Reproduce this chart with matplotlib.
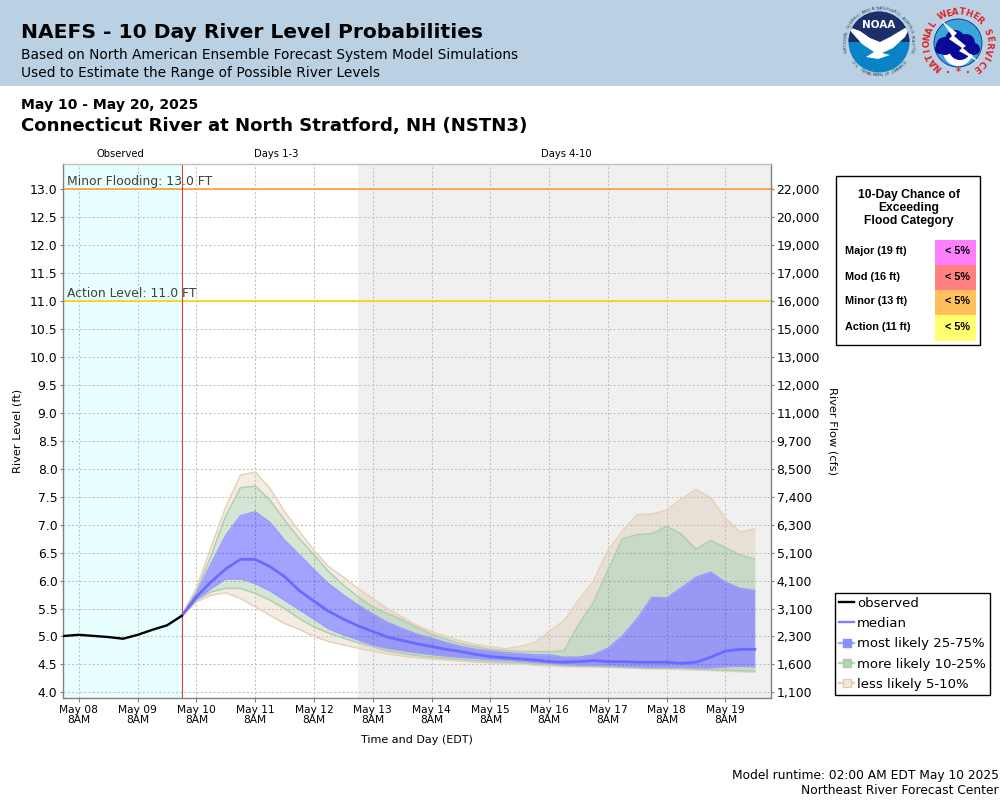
import numpy as np
import matplotlib
matplotlib.use("Agg")
import matplotlib.pyplot as plt
from matplotlib.lines import Line2D
from matplotlib.patches import Rectangle, Circle, Wedge, Polygon

plt.rcParams['font.family'] = ['DejaVu Sans']

# hours after May 08 8AM
obs_hours = [-6, 0, 6, 12, 18, 24, 30, 36, 42]
obs_level = [5.01, 5.03, 5.01, 4.99, 4.96, 5.03, 5.12, 5.20, 5.37]

fc_hours = [42, 48, 54, 60, 66, 72, 78, 84, 90, 96, 102, 108, 114, 120,
            126, 132, 138, 144, 150, 156, 162, 168, 174, 180, 186, 192,
            198, 204, 210, 216, 222, 228, 234, 240, 246, 252, 258, 264, 270, 276]
q95 = [5.37, 5.87, 6.60, 7.32, 7.89, 7.94, 7.65, 7.23, 6.88, 6.54, 6.25, 6.06, 5.86, 5.68,
       5.50, 5.35, 5.20, 5.09, 5.00, 4.92, 4.86, 4.82, 4.78, 4.82, 4.89, 5.09,
       5.28, 5.65, 5.98, 6.54, 6.89, 7.18, 7.19, 7.26, 7.46, 7.63, 7.48, 7.11, 6.87, 6.92]
q90 = [5.37, 5.80, 6.45, 7.16, 7.66, 7.69, 7.44, 7.08, 6.75, 6.46, 6.16, 5.92, 5.71, 5.53,
       5.41, 5.30, 5.16, 5.04, 4.95, 4.87, 4.82, 4.77, 4.75, 4.73, 4.73, 4.73,
       4.74, 5.21, 5.60, 6.19, 6.75, 6.82, 6.84, 6.97, 6.83, 6.56, 6.72, 6.59, 6.46, 6.38]
q75 = [5.37, 5.77, 6.30, 6.81, 7.16, 7.23, 7.04, 6.72, 6.46, 6.19, 5.94, 5.74, 5.56, 5.40,
       5.25, 5.14, 5.04, 4.97, 4.89, 4.82, 4.77, 4.74, 4.71, 4.69, 4.67, 4.67,
       4.63, 4.63, 4.67, 4.79, 5.01, 5.32, 5.70, 5.69, 5.87, 6.06, 6.15, 5.97, 5.86, 5.82]
median = [5.37, 5.71, 5.98, 6.21, 6.38, 6.38, 6.25, 6.07, 5.82, 5.63, 5.45, 5.31, 5.19, 5.09,
          4.99, 4.93, 4.87, 4.82, 4.77, 4.73, 4.68, 4.64, 4.62, 4.60, 4.58, 4.55,
          4.54, 4.55, 4.57, 4.55, 4.55, 4.54, 4.54, 4.54, 4.52, 4.54, 4.63, 4.74, 4.77, 4.77]
q25 = [5.37, 5.66, 5.86, 6.03, 6.03, 5.95, 5.82, 5.65, 5.48, 5.31, 5.14, 5.03, 4.94, 4.85,
       4.79, 4.75, 4.71, 4.68, 4.65, 4.63, 4.61, 4.59, 4.58, 4.56, 4.54, 4.52,
       4.50, 4.49, 4.49, 4.48, 4.47, 4.46, 4.45, 4.45, 4.45, 4.44, 4.44, 4.46, 4.47, 4.46]
q10 = [5.37, 5.65, 5.80, 5.86, 5.86, 5.77, 5.65, 5.50, 5.32, 5.17, 5.06, 4.97, 4.89, 4.82,
       4.74, 4.70, 4.66, 4.63, 4.61, 4.59, 4.57, 4.55, 4.54, 4.53, 4.51, 4.50,
       4.48, 4.47, 4.47, 4.46, 4.45, 4.44, 4.43, 4.43, 4.43, 4.42, 4.41, 4.40, 4.39, 4.38]
q5 = [5.37, 5.62, 5.74, 5.78, 5.68, 5.53, 5.38, 5.23, 5.13, 5.00, 4.91, 4.85, 4.79, 4.74,
      4.69, 4.65, 4.62, 4.60, 4.58, 4.56, 4.54, 4.53, 4.52, 4.51, 4.49, 4.47,
      4.46, 4.46, 4.45, 4.45, 4.44, 4.43, 4.42, 4.42, 4.41, 4.40, 4.39, 4.38, 4.37, 4.36]

day_ticks = [0, 24, 48, 72, 96, 120, 144, 168, 192, 216, 240, 264]
day_labels = ['May 08', 'May 09', 'May 10', 'May 11', 'May 12', 'May 13',
              'May 14', 'May 15', 'May 16', 'May 17', 'May 18', 'May 19']
level_ticks = [4.0, 4.5, 5.0, 5.5, 6.0, 6.5, 7.0, 7.5, 8.0, 8.5, 9.0, 9.5,
               10.0, 10.5, 11.0, 11.5, 12.0, 12.5, 13.0]
flow_labels = ['1,100', '1,600', '2,300', '3,100', '4,100', '5,100', '6,300', '7,400',
               '8,500', '9,700', '11,000', '12,000', '13,000', '15,000', '16,000',
               '17,000', '19,000', '20,000', '22,000']
forecast_start = 42
days_4_10_start = 114
minor_level = 13.0
action_level = 11.0

table_rows = ['Major (19 ft)', 'Mod (16 ft)', 'Minor (13 ft)', 'Action (11 ft)']
table_chance = ['< 5%', '< 5%', '< 5%', '< 5%']
table_colors = ['#ff80ff', '#ff8080', '#ffc05c', '#ffff70']

fig = plt.figure(figsize=(10, 8), dpi=100)

# main plot, placed to the pixel
ax = fig.add_axes([63 / 1000, (800 - 698) / 800, (771 - 63) / 1000, (698 - 164) / 800])
ax.set_xlim(-6.5, 282.6)
ax.set_ylim(3.9, 13.45)

ax.axvspan(-6.5, forecast_start, color='#e8ffff', lw=0, zorder=0)
ax.axvspan(days_4_10_start, 282.6, color='#f0f0f0', lw=0, zorder=0)
ax.grid(True, color='#c0c0c0', linestyle=(0, (2, 2)), linewidth=0.75, zorder=1)
ax.set_axisbelow(True)

ax.axhline(minor_level, color='#ff9c38', lw=1.2, zorder=2)
ax.axhline(action_level, color='#ffd000', lw=1.2, zorder=2)
ax.axvline(forecast_start, color='#d84038', lw=0.8, zorder=2)
ax.text(-5, minor_level + 0.02, 'Minor Flooding: 13.0 FT', fontsize=8.9, color='#404040',
        va='bottom', zorder=3)
ax.text(-5, action_level + 0.02, 'Action Level: 11.0 FT', fontsize=8.9, color='#404040',
        va='bottom', zorder=3)

# bands are drawn side by side so colours do not stack
tan = '#d2b48c'
green = '#1f7a1f'
blue = '#0000ff'
ax.fill_between(fc_hours, q90, q95, color=tan, alpha=0.25, lw=0, zorder=3)
ax.fill_between(fc_hours, q5, q10, color=tan, alpha=0.25, lw=0, zorder=3)
ax.fill_between(fc_hours, q75, q90, color=green, alpha=0.19, lw=0, zorder=3)
ax.fill_between(fc_hours, q10, q25, color=green, alpha=0.19, lw=0, zorder=3)
ax.fill_between(fc_hours, q25, q75, color=blue, alpha=0.36, lw=0, zorder=3)
for series, col in [(q95, '#e6d2ba'), (q5, '#e6d2ba'), (q90, '#b4ccb0'), (q10, '#b4ccb0'),
                    (q75, '#9a9aff'), (q25, '#9a9aff')]:
    ax.plot(fc_hours, series, color=col, lw=1.1, zorder=4)
ax.plot(fc_hours, median, color='#6a6aff', lw=2.0, zorder=5)
ax.plot(obs_hours, obs_level, color='black', lw=1.7, zorder=6)

ax.set_xticks(day_ticks)
ax.set_xticklabels([d + '\n8AM' for d in day_labels], fontsize=7.7, linespacing=1.05)
ax.set_yticks(level_ticks)
ax.set_yticklabels(['%.1f' % v for v in level_ticks], fontsize=8.9)
ax.tick_params(axis='x', length=3, width=0.8, color='#808080', pad=2)
ax.tick_params(axis='y', length=2.5, width=0.8, color='#808080', pad=1.5)
for side, col in [('left', '#808080'), ('bottom', '#808080'), ('right', '#808080'), ('top', '#c0c0c0')]:
    ax.spines[side].set_color(col)
    ax.spines[side].set_linewidth(1.0)

ax2 = ax.twinx()
ax2.set_ylim(ax.get_ylim())
ax2.set_yticks(level_ticks)
ax2.set_yticklabels(flow_labels, fontsize=8.9)
ax2.tick_params(axis='y', length=2.5, width=0.8, color='#808080', pad=1.5)
for side in ax2.spines:
    ax2.spines[side].set_visible(False)

handles = [
    Line2D([], [], color='black', lw=1.7),
    Line2D([], [], color='#8080ff', lw=1.7),
    Line2D([], [], color='#a8a8ff', lw=1.7, marker='s', ms=6, mfc='#8c8cff', mec='#8c8cff'),
    Line2D([], [], color='#b8d4b8', lw=1.7, marker='s', ms=6, mfc='#b4d4b0', mec='#a8cca4'),
    Line2D([], [], color='#e6d2ba', lw=1.7, marker='s', ms=6, mfc='#f1e8dc', mec='#e0ccb4'),
]
leg = ax2.legend(handles, ['observed', 'median', 'most likely 25-75%', 'more likely 10-25%', 'less likely 5-10%'],
                 loc='lower left', bbox_to_anchor=(835 / 1000, (800 - 695) / 800),
                 bbox_transform=fig.transFigure, borderaxespad=0, fontsize=9.5, fancybox=False,
                 edgecolor='black', framealpha=1, handlelength=1.15, handletextpad=0.2,
                 labelspacing=0.55, borderpad=0.32)
leg.get_frame().set_linewidth(1.0)

# everything around the plot is placed in pixel coordinates
page = fig.add_axes([0, 0, 1, 1], facecolor='none')
page.set_xlim(0, 1000)
page.set_ylim(800, 0)
page.axis('off')

page.add_patch(Rectangle((0, 0), 1000, 86, facecolor='#bad1e4', lw=0))
page.text(21, 33, 'NAEFS - 10 Day River Level Probabilities', fontsize=14.55, fontweight='bold', va='center')
page.text(21, 54.5, 'Based on North American Ensemble Forecast System Model Simulations', fontsize=9.95, va='center')
page.text(21, 73, 'Used to Estimate the Range of Possible River Levels', fontsize=9.95, va='center')
page.text(21, 105.5, 'May 10 - May 20, 2025', fontsize=10.1, fontweight='bold', va='center')
page.text(21, 126, 'Connecticut River at North Stratford, NH (NSTN3)', fontsize=13.05, fontweight='bold', va='center')

page.text(120, 154, 'Observed', fontsize=7.2, ha='center', va='center')
page.text(276.5, 154, 'Days 1-3', fontsize=7.2, ha='center', va='center')
page.text(566, 154, 'Days 4-10', fontsize=7.2, ha='center', va='center')
page.text(18, 431, 'River Level (ft)', fontsize=8.2, rotation=90, ha='center', va='center')
page.text(832, 431, 'River Flow (cfs)', fontsize=8.2, rotation=270, ha='center', va='center')
page.text(417, 740, 'Time and Day (EDT)', fontsize=8, ha='center', va='center')
page.text(999, 775, 'Model runtime: 02:00 AM EDT May 10 2025', fontsize=8.8, ha='right', va='center')
page.text(999, 791, 'Northeast River Forecast Center', fontsize=8.8, ha='right', va='center')

# flood category table
page.add_patch(Rectangle((836, 176), 144, 169, facecolor='white', edgecolor='black', lw=1.0))
sans = 'Liberation Sans'
for line, y in zip(['10-Day Chance of', 'Exceeding', 'Flood Category'], [195, 208, 221]):
    page.text(909, y, line, family=sans, fontsize=8.7, fontweight='bold', ha='center', va='center')
for i, (row, chance, col) in enumerate(zip(table_rows, table_chance, table_colors)):
    top = 240 + i * 25
    page.add_patch(Rectangle((935, top), 41, 25.5, facecolor=col, lw=0))
    page.text(845, top + 11.5, row, family=sans, fontsize=7.8, fontweight='bold', va='center')
    page.text(970, top + 11.5, chance, family=sans, fontsize=7.8, fontweight='bold', ha='right', va='center')


def ring_text(label, cx, cy, r, start, end, size, color, bottom=False, weight='normal'):
    # one text per letter, going round the circle
    for ch, a in zip(label, np.linspace(start, end, len(label))):
        t = np.radians(a)
        rot = a + 90 if bottom else a - 90
        page.text(cx + r * np.cos(t), cy - r * np.sin(t), ch, fontsize=size, color=color,
                  rotation=rot, ha='center', va='center', fontweight=weight,
                  rotation_mode='anchor')


# NOAA logo
nx, ny = 879, 42
page.add_patch(Circle((nx, ny), 30.5, facecolor='#0a82c6', lw=0))
# y axis is flipped here, so the top half runs from 180 to 360 degrees
page.add_patch(Wedge((nx, ny), 30.5, 180, 360, facecolor='#1c2f6b', lw=0))
bird = Polygon([(846, 26), (860, 31), (870, 38), (880, 42), (890, 37), (900, 31), (912, 24),
                (905, 37), (893, 48), (882, 53), (890, 55), (878, 59), (866, 57), (874, 52),
                (862, 44)], facecolor='white', lw=0)
page.add_patch(bird)
bird.set_clip_path(Circle((nx, ny), 30.5, transform=page.transData))
page.text(nx, 25, 'NOAA', fontsize=7.5, fontweight='bold', color='white', ha='center', va='center')
ring_text('NATIONAL OCEANIC AND ATMOSPHERIC ADMINISTRATION', nx, ny, 33.5, 195, -15, 3, '#34405a')
ring_text('U.S. DEPARTMENT OF COMMERCE', nx, ny, 33.5, 218, 322, 3, '#34405a', bottom=True)

# NWS logo
wx, wy = 958, 43
page.add_patch(Circle((wx, wy), 24, facecolor='#3aa5d8', edgecolor='#102a80', lw=0.6))
page.add_patch(Circle((wx, wy + 8), 15, facecolor='white', lw=0))
for dx, dy, r in [(-13, 3, 9), (-3, -3, 10), (8, 0, 9), (16, 6, 6), (-18, 6, 5), (2, 6, 11)]:
    page.add_patch(Circle((wx + dx, wy + dy), r, facecolor='#0a0a96', lw=0))
page.add_patch(Polygon([(942, 21), (957, 33), (954, 36), (966, 46), (963, 48), (979, 62),
                        (959, 51), (962, 48), (949, 39), (952, 36)], facecolor='white', lw=0))
ring_text('NATIONAL WEATHER SERVICE', wx, wy, 31, 230, -53, 6.2, '#e02020', weight='bold')
for a, mark in [(250, '.'), (270, '*'), (290, '.')]:
    t = np.radians(a)
    page.text(wx + 29 * np.cos(t), wy - 29 * np.sin(t), mark, fontsize=7, color='#e02020',
              ha='center', va='center', fontweight='bold')

fig.savefig('out.png', dpi=100)
